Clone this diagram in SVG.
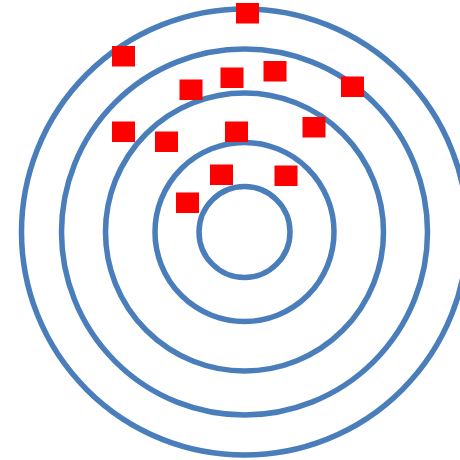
<svg xmlns="http://www.w3.org/2000/svg" width="460" height="460" viewBox="0 0 460 460">
<style>
.ring{fill:none;stroke:#4A7EBB;stroke-width:5.5}
.sq{fill:#FF0000}
</style>
<rect width="460" height="460" fill="#ffffff"/>
<g id="rings">
<circle class="ring" cx="244.5" cy="232" r="45.5"/>
<circle class="ring" cx="244.5" cy="232" r="89.5"/>
<circle class="ring" cx="244.5" cy="232" r="139"/>
<circle class="ring" cx="244.5" cy="232" r="183"/>
<circle class="ring" cx="244.5" cy="232" r="223"/>
</g>
<g id="squares">
<rect class="sq" x="236" y="3" width="23" height="20.5"/>
<rect class="sq" x="112" y="46" width="23" height="20.5"/>
<rect class="sq" x="179.5" y="79.5" width="23" height="20.5"/>
<rect class="sq" x="220.5" y="67.5" width="23" height="20.5"/>
<rect class="sq" x="263.5" y="61" width="23" height="20.5"/>
<rect class="sq" x="341" y="76.5" width="23" height="20.5"/>
<rect class="sq" x="112" y="121.5" width="23" height="20.5"/>
<rect class="sq" x="155" y="131.5" width="23" height="20.5"/>
<rect class="sq" x="225" y="121.5" width="23" height="20.5"/>
<rect class="sq" x="302.5" y="117" width="23" height="20.5"/>
<rect class="sq" x="210" y="164.5" width="23" height="20.5"/>
<rect class="sq" x="274.5" y="165.5" width="23" height="20.5"/>
<rect class="sq" x="176" y="192.5" width="23" height="20.5"/>
</g>
</svg>
